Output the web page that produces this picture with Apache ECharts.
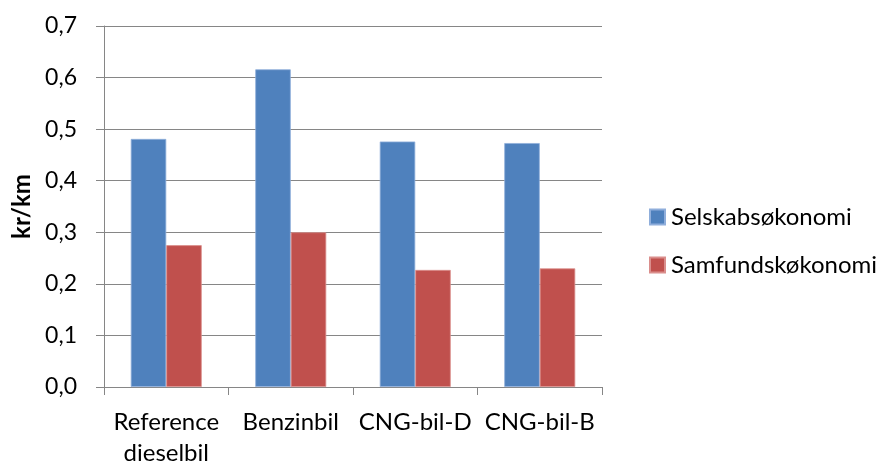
<!DOCTYPE html>
<html><head><meta charset="utf-8">
<script src="https://cdn.jsdelivr.net/npm/echarts@6/dist/echarts.min.js"></script>
<style>html,body{margin:0;padding:0;background:#fff}#c{width:882px;height:462px}</style>
</head><body><div id="c"></div>
<script>
const categories = ['Reference\ndieselbil', 'Benzinbil', 'CNG-bil-D', 'CNG-bil-B'];
const seriesNames = ['Selskabsøkonomi', 'Samfundskøkonomi'];
const selskab = [0.481, 0.616, 0.476, 0.473];
const samfund = [0.275, 0.300, 0.227, 0.230];
const yTicks = [0, 0.1, 0.2, 0.3, 0.4, 0.5, 0.6, 0.7];
const yAxisTitle = 'kr/km';

const FONT = 'Lato';
const chart = echarts.init(document.getElementById('c'), null, {renderer: 'canvas'});
chart.setOption({
  animation: false,
  backgroundColor: '#fff',
  textStyle: {fontFamily: FONT},
  grid: {left: 104, right: 280, top: 26, bottom: 75, outerBoundsMode: 'none', containLabel: false},
  legend: {
    orient: 'vertical', left: 644, top: 200,
    itemWidth: 15, itemHeight: 15, itemGap: 24,
    icon: 'rect',
    textStyle: {fontFamily: FONT, fontSize: 24, color: '#000', padding: [0, 0, 0, 1]},
    data: seriesNames
  },
  xAxis: {
    type: 'category', data: categories,
    axisLine: {lineStyle: {color: '#868686', width: 1}},
    axisTick: {show: true, length: 8, alignWithLabel: false, lineStyle: {color: '#868686'}},
    axisLabel: {fontFamily: FONT, fontSize: 24, color: '#000', margin: 20, lineHeight: 31, interval: 0}
  },
  yAxis: {
    type: 'value', min: 0, max: 0.7, interval: 0.1,
    name: yAxisTitle, nameLocation: 'middle', nameGap: 69,
    nameTextStyle: {fontFamily: FONT, fontSize: 24, fontWeight: 'bold', color: '#000'},
    axisLine: {show: true, lineStyle: {color: '#868686', width: 1}},
    axisTick: {show: true, length: 8, lineStyle: {color: '#868686'}},
    splitLine: {lineStyle: {color: '#868686', width: 1}},
    axisLabel: {fontFamily: FONT, fontSize: 23, color: '#000', margin: 27,
      formatter: v => { const t = yTicks.find(x => Math.abs(x - v) < 1e-9); return (t !== undefined ? t : v).toFixed(1).replace('.', ','); }}
  },
  series: [
    {name: seriesNames[0], type: 'bar', data: selskab, barGap: '0%', barCategoryGap: '43%',
     itemStyle: {color: '#4F81BD', borderColor: '#8FAEDB', borderWidth: 0.8}},
    {name: seriesNames[1], type: 'bar', data: samfund, barGap: '0%', barCategoryGap: '43%',
     itemStyle: {color: '#C0504D', borderColor: '#DA8E8C', borderWidth: 0.8}}
  ]
});
</script></body></html>
